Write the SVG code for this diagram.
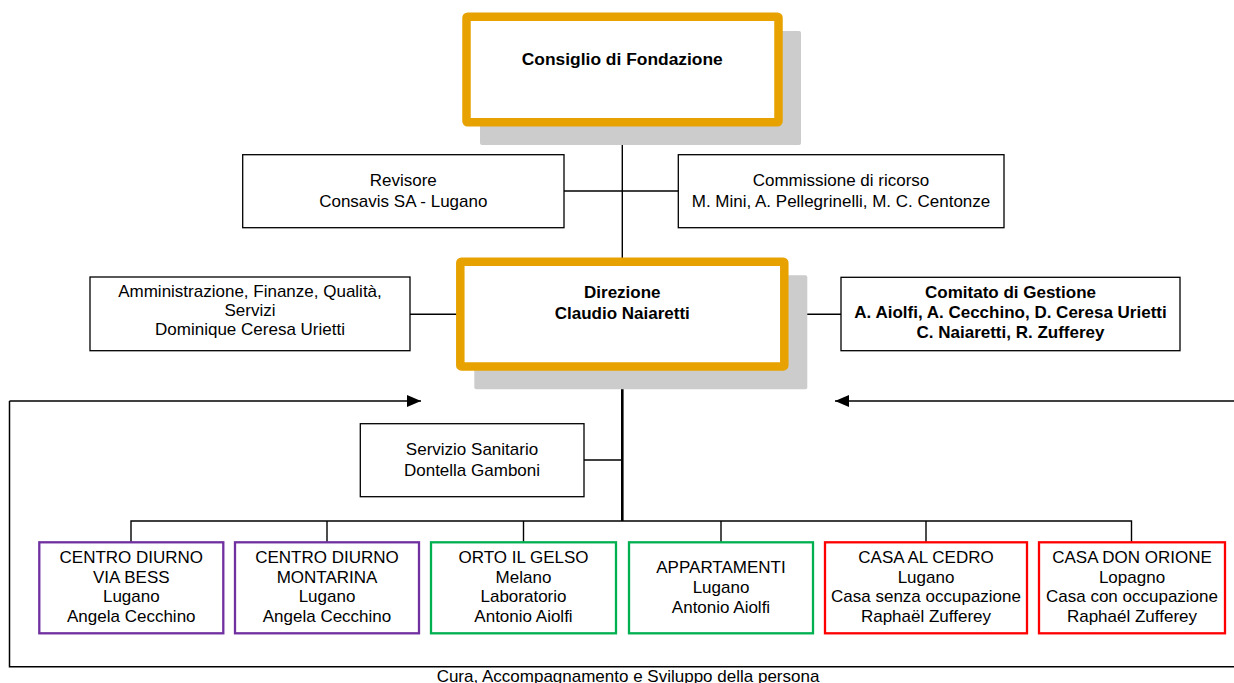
<svg xmlns="http://www.w3.org/2000/svg" width="1234" height="683" viewBox="0 0 1234 683">
<defs>
<style>
text{font-family:"Liberation Sans",Arial,sans-serif;font-size:17px;fill:#000;text-anchor:middle}
.b{font-weight:bold}
.shadow{fill:#cccccc}
.main{fill:#fff;stroke:#E8A200;stroke-width:8.5}
.box{fill:#fff;stroke:#000;stroke-width:1.3}
.purple{fill:#fff;stroke:#7030A0;stroke-width:2.3}
.green{fill:#fff;stroke:#00B050;stroke-width:2.3}
.red{fill:#fff;stroke:#FF0000;stroke-width:2.3}
.ln{fill:none;stroke:#000;stroke-width:1.4}
</style>
<marker id="ah" markerWidth="14" markerHeight="12" refX="14" refY="6" orient="auto" markerUnits="userSpaceOnUse">
<path d="M0,0 L14,6 L0,12 Z" fill="#000"/>
</marker>
</defs>
<g id="connectors">
<line class="ln" x1="622.3" y1="125" x2="622.3" y2="262"/>
<line class="ln" x1="564" y1="191" x2="678" y2="191"/>
<line class="ln" x1="410" y1="314.3" x2="457" y2="314.3"/>
<line class="ln" x1="788" y1="314.3" x2="841" y2="314.3"/>
<line fill="none" stroke="#000" stroke-width="2.6" x1="622.3" y1="370" x2="622.3" y2="521"/>
<line class="ln" x1="584" y1="460" x2="622" y2="460"/>
<polyline class="ln" points="131,542 131,521 1131.5,521 1131.5,542"/>
<line class="ln" x1="327" y1="521" x2="327" y2="542"/>
<line class="ln" x1="523.5" y1="521" x2="523.5" y2="542"/>
<line class="ln" x1="721" y1="521" x2="721" y2="542"/>
<line class="ln" x1="926" y1="521" x2="926" y2="542"/>
<polyline fill="none" stroke="#000" stroke-width="1.5" points="1234,666.7 9.5,666.7 9.5,401"/>
<line fill="none" stroke="#000" stroke-width="1.5" x1="9.5" y1="401" x2="421" y2="401" marker-end="url(#ah)"/>
<line fill="none" stroke="#000" stroke-width="1.5" x1="1234" y1="401" x2="835" y2="401" marker-end="url(#ah)"/>
</g>
<g id="consiglio">
<rect class="shadow" x="480" y="31" width="321" height="114" rx="2"/>
<rect class="main" x="466.5" y="16.7" width="312" height="105.5" rx="1"/>
<text class="b" x="622.3" y="65" style="font-size:17.4px">Consiglio di Fondazione</text>
</g>
<g id="revisore">
<rect class="box" x="242.7" y="154.7" width="321.3" height="73"/>
<text x="403.3" y="186">Revisore</text>
<text x="403.3" y="206.7">Consavis SA - Lugano</text>
</g>
<g id="commissione">
<rect class="box" x="678.3" y="154.7" width="325.7" height="73"/>
<text x="841" y="186">Commissione di ricorso</text>
<text x="841" y="206.7">M. Mini, A. Pellegrinelli, M. C. Centonze</text>
</g>
<g id="direzione">
<rect class="shadow" x="474.3" y="275.3" width="333" height="114" rx="2"/>
<rect class="main" x="460.3" y="261.7" width="324" height="104.7" rx="1"/>
<text class="b" x="622.3" y="298.3">Direzione</text>
<text class="b" x="622.3" y="319.3">Claudio Naiaretti</text>
</g>
<g id="amministrazione">
<rect class="box" x="90" y="277" width="320" height="73.7"/>
<text x="250" y="297.3">Amministrazione, Finanze, Qualità,</text>
<text x="250" y="316.3">Servizi</text>
<text x="250" y="335.3">Dominique Ceresa Urietti</text>
</g>
<g id="comitato">
<rect class="box" x="841" y="277.3" width="339" height="73.4"/>
<text class="b" x="1010.5" y="298.3">Comitato di Gestione</text>
<text class="b" x="1010.5" y="318.3">A. Aiolfi, A. Cecchino, D. Ceresa Urietti</text>
<text class="b" x="1010.5" y="337.7">C. Naiaretti, R. Zufferey</text>
</g>
<g id="servizio">
<rect class="box" x="360.3" y="423.7" width="223.7" height="73"/>
<text x="472" y="455">Servizio Sanitario</text>
<text x="472" y="476">Dontella Gamboni</text>
</g>
<g id="cd-viabess">
<rect class="purple" x="39.3" y="542.3" width="184" height="91"/>
<text x="131.3" y="563">CENTRO DIURNO</text>
<text x="131.3" y="582.5">VIA BESS</text>
<text x="131.3" y="602">Lugano</text>
<text x="131.3" y="621.5">Angela Cecchino</text>
</g>
<g id="cd-montarina">
<rect class="purple" x="235" y="542.3" width="184" height="91"/>
<text x="327" y="563">CENTRO DIURNO</text>
<text x="327" y="582.5">MONTARINA</text>
<text x="327" y="602">Lugano</text>
<text x="327" y="621.5">Angela Cecchino</text>
</g>
<g id="orto">
<rect class="green" x="431" y="542.3" width="185" height="91"/>
<text x="523.5" y="563">ORTO IL GELSO</text>
<text x="523.5" y="582.5">Melano</text>
<text x="523.5" y="602">Laboratorio</text>
<text x="523.5" y="621.5">Antonio Aiolfi</text>
</g>
<g id="appartamenti">
<rect class="green" x="629" y="542.3" width="184" height="91"/>
<text x="721" y="572.5">APPARTAMENTI</text>
<text x="721" y="592.5">Lugano</text>
<text x="721" y="612.5">Antonio Aiolfi</text>
</g>
<g id="cedro">
<rect class="red" x="825" y="542.3" width="202" height="91"/>
<text x="926" y="563">CASA AL CEDRO</text>
<text x="926" y="582.5">Lugano</text>
<text x="926" y="602">Casa senza occupazione</text>
<text x="926" y="621.5">Raphaël Zufferey</text>
</g>
<g id="donorione">
<rect class="red" x="1039" y="542.3" width="186" height="91"/>
<text x="1132" y="563">CASA DON ORIONE</text>
<text x="1132" y="582.5">Lopagno</text>
<text x="1132" y="602">Casa con occupazione</text>
<text x="1132" y="621.5">Raphaél Zufferey</text>
</g>
<g id="footer">
<text x="628" y="682">Cura, Accompagnamento e Sviluppo della persona</text>
</g>
</svg>
